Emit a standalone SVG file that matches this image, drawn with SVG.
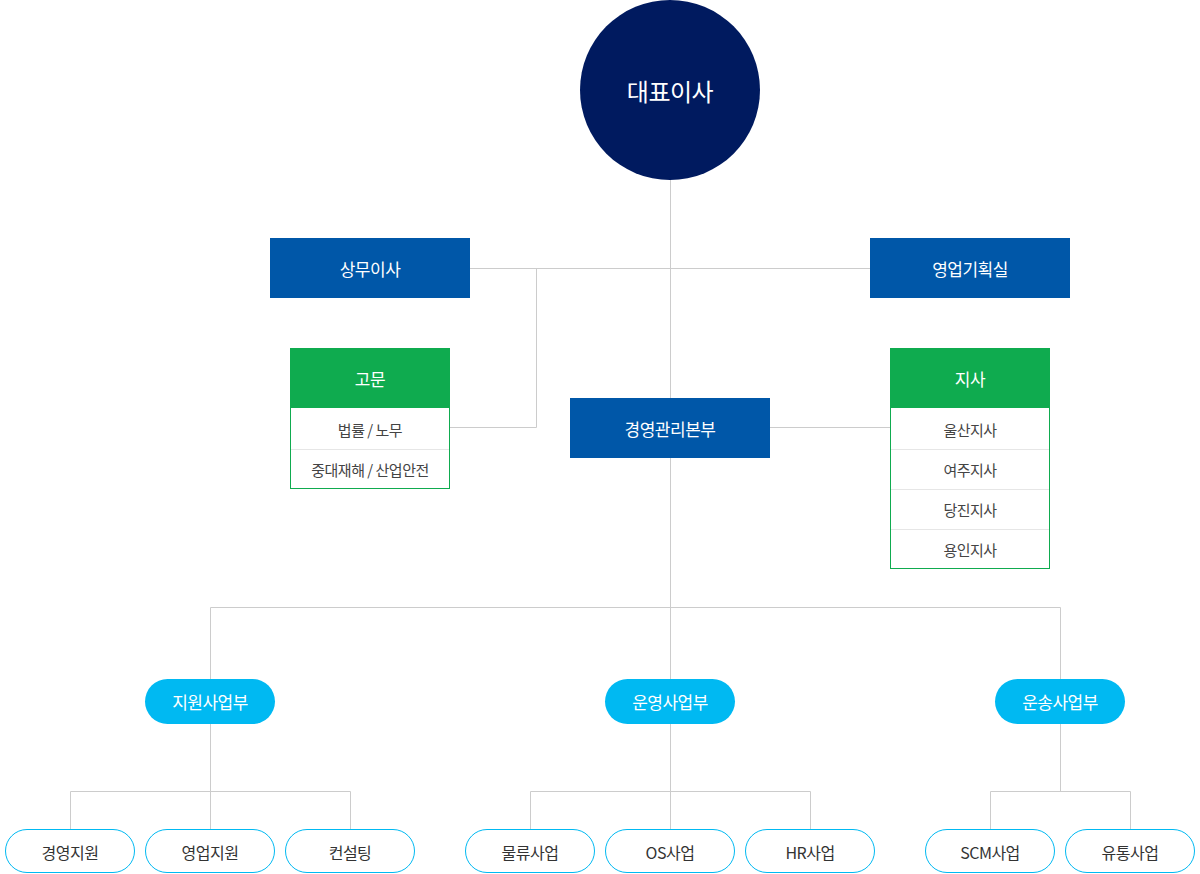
<svg xmlns="http://www.w3.org/2000/svg" width="1200" height="874" viewBox="0 0 1200 874">
<style>
text{font-family:"Noto Sans CJK KR","Noto Sans",sans-serif;text-anchor:middle;dominant-baseline:central;letter-spacing:-0.5px}
.w{fill:#fff;font-size:17px}
.big{fill:#fff;font-size:24px}
.blue{fill:#0057a8}
.green{fill:#0fab4f}
.cell{fill:#fff;stroke:#0fab4f;stroke-width:1}
.row{stroke:#e6e6e6;stroke-width:1}
.rt{fill:#444;font-size:15px}
.pill{fill:#00b9f2}
.sub{fill:#fff;stroke:#00b9f2;stroke-width:1}
.st{fill:#333;font-size:16px}
.ln{stroke:#cccccc;stroke-width:1;fill:none}
</style>
<rect width="1200" height="874" fill="#fff"/>
<g id="connectors">
<path class="ln" d="M670.5 180V607.5M470 268.5H870M536.5 268.5V427.5H450M770 427.5H890M210.5 607.5H1060.5M210.5 607.5V679M670.5 607.5V679M1060.5 607.5V679"/>
<path class="ln" d="M210.5 724V791.5M70.5 791.5H350.5M70.5 791.5V829M210.5 791.5V829M350.5 791.5V829"/>
<path class="ln" d="M670.5 724V791.5M530.5 791.5H810.5M530.5 791.5V829M670.5 791.5V829M810.5 791.5V829"/>
<path class="ln" d="M1060.5 724V791.5M990.5 791.5H1130.5M990.5 791.5V829M1130.5 791.5V829"/>
</g>
<g id="ceo"><circle cx="670" cy="90" r="90" fill="#001a5f"/><text class="big" x="670" y="90">대표이사</text></g>
<g id="sangmu"><rect class="blue" x="270" y="238" width="200" height="60"/><text class="w" x="370" y="268">상무이사</text></g>
<g id="planning"><rect class="blue" x="870" y="238" width="200" height="60"/><text class="w" x="970" y="268">영업기획실</text></g>
<g id="mgmt"><rect class="blue" x="570" y="398" width="200" height="60"/><text class="w" x="670" y="428">경영관리본부</text></g>
<g id="advisor">
<rect class="cell" x="290.5" y="348.5" width="159" height="140"/>
<rect class="green" x="290" y="348" width="160" height="60"/>
<text class="w" x="370" y="378">고문</text>
<line class="row" x1="291" y1="449.5" x2="449" y2="449.5"/>
<text class="rt" x="370" y="429">법률 / 노무</text>
<text class="rt" x="370" y="469">중대재해 / 산업안전</text>
</g>
<g id="branch">
<rect class="cell" x="890.5" y="348.5" width="159" height="220"/>
<rect class="green" x="890" y="348" width="160" height="60"/>
<text class="w" x="970" y="378">지사</text>
<line class="row" x1="891" y1="449.5" x2="1049" y2="449.5"/>
<line class="row" x1="891" y1="489.5" x2="1049" y2="489.5"/>
<line class="row" x1="891" y1="529.5" x2="1049" y2="529.5"/>
<text class="rt" x="970" y="429">울산지사</text>
<text class="rt" x="970" y="469">여주지사</text>
<text class="rt" x="970" y="509">당진지사</text>
<text class="rt" x="970" y="549">용인지사</text>
</g>
<g id="div1"><rect class="pill" x="145" y="679" width="130" height="45" rx="22.5"/><text class="w" x="210" y="701.5">지원사업부</text></g>
<g id="div2"><rect class="pill" x="605" y="679" width="130" height="45" rx="22.5"/><text class="w" x="670" y="701.5">운영사업부</text></g>
<g id="div3"><rect class="pill" x="995" y="679" width="130" height="45" rx="22.5"/><text class="w" x="1060" y="701.5">운송사업부</text></g>
<g id="s1"><rect class="sub" x="5.5" y="829.5" width="129" height="43" rx="21.5"/><text class="st" x="70" y="852">경영지원</text></g>
<g id="s2"><rect class="sub" x="145.5" y="829.5" width="129" height="43" rx="21.5"/><text class="st" x="210" y="852">영업지원</text></g>
<g id="s3"><rect class="sub" x="285.5" y="829.5" width="129" height="43" rx="21.5"/><text class="st" x="350" y="852">컨설팅</text></g>
<g id="s4"><rect class="sub" x="465.5" y="829.5" width="129" height="43" rx="21.5"/><text class="st" x="530" y="852">물류사업</text></g>
<g id="s5"><rect class="sub" x="605.5" y="829.5" width="129" height="43" rx="21.5"/><text class="st" x="670" y="852">OS사업</text></g>
<g id="s6"><rect class="sub" x="745.5" y="829.5" width="129" height="43" rx="21.5"/><text class="st" x="810" y="852">HR사업</text></g>
<g id="s7"><rect class="sub" x="925.5" y="829.5" width="129" height="43" rx="21.5"/><text class="st" x="990" y="852">SCM사업</text></g>
<g id="s8"><rect class="sub" x="1065.5" y="829.5" width="129" height="43" rx="21.5"/><text class="st" x="1130" y="852">유통사업</text></g>
</svg>
